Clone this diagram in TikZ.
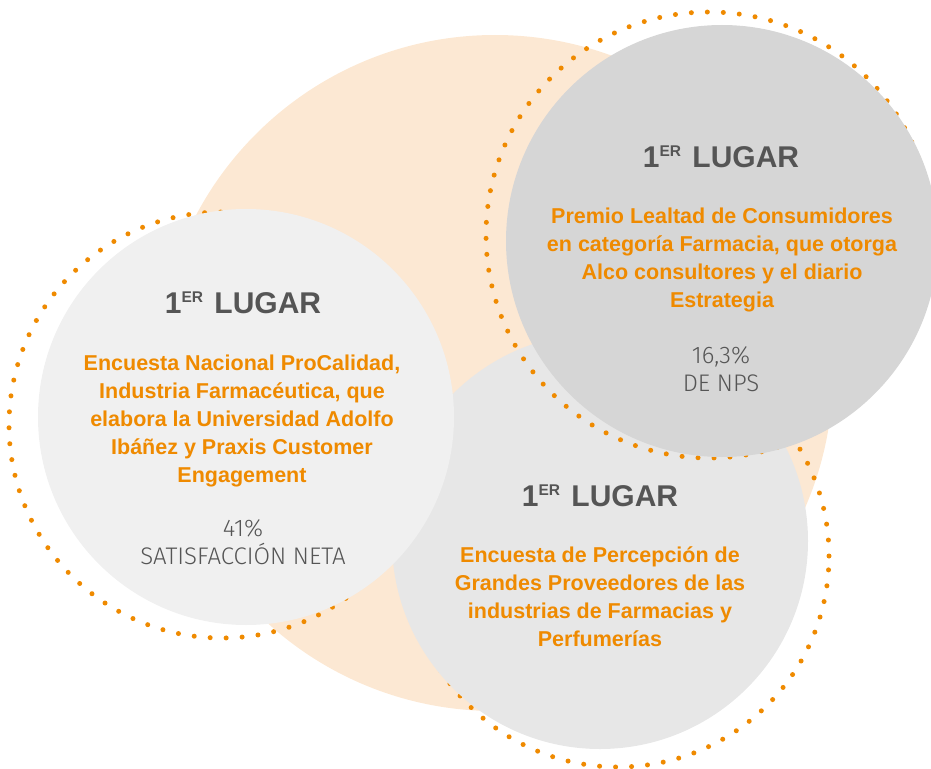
\documentclass[tikz,border=0pt]{standalone}
\usepackage{fontspec}
\setmainfont{Liberation Sans}
\newfontfamily\scorefont{Fira Sans Light}
\definecolor{peach}{HTML}{FCE8D3}
\definecolor{awardorange}{HTML}{EF8A00}
\definecolor{lightbubble}{HTML}{F0F0F0}
\definecolor{midbubble}{HTML}{E7E7E7}
\definecolor{darkbubble}{HTML}{D6D6D6}
\definecolor{placegray}{HTML}{555555}
\newcommand{\firstplace}{1\raisebox{10.4pt}{\fontsize{15.5}{15.5}\selectfont ER}\hspace{3pt} LUGAR}

\tikzset{
    bubble/.style={circle, inner sep=0pt, draw=none},
    ring/.style={draw=awardorange, line width=5pt, line cap=round, dash pattern=on 0pt off 16pt},
    place/.style={anchor=base, inner sep=0pt, text=placegray, font=\fontsize{30}{30}\selectfont\bfseries},
    award/.style={anchor=base, inner sep=0pt, align=center, text=awardorange, font=\fontsize{21.5}{28}\selectfont\bfseries},
    score/.style={anchor=base, inner sep=0pt, align=center, text=placegray, font=\fontsize{24}{28}\selectfont\scorefont}
}

\begin{document}
\begin{tikzpicture}[x=1pt, y=-1pt]
    \useasboundingbox (0,0) rectangle (931,768);
    \fill[peach] (495,373) circle[radius=338pt];

    \draw[ring] (618,556) circle[radius=211pt];
    \node[bubble, fill=midbubble, minimum size=416pt] (survey) at (600,541) {};
    \draw[ring] (222,425) circle[radius=213pt];
    \node[bubble, fill=lightbubble, minimum size=416pt] (procalidad) at (246,417) {};
    \draw[ring] (709,235) circle[radius=223pt];
    \node[bubble, fill=darkbubble, minimum size=432pt] (loyalty) at (722,241) {};

    \node[place] (placeA) at (243,313) {\firstplace};
    \node[award] (awardA) at (242,482) {Encuesta Nacional ProCalidad,\\ Industria Farmacéutica, que\\ elabora la Universidad Adolfo\\ Ibáñez y Praxis Customer\\ Engagement};
    \node[score] (scoreA) at (243,564) {41\%\\ SATISFACCIÓN NETA};

    \node[place] (placeB) at (721,167) {\firstplace};
    \node[award] (awardB) at (722,307) {Premio Lealtad de Consumidores\\ en categoría Farmacia, que otorga\\ Alco consultores y el diario\\ Estrategia};
    \node[score] (scoreB) at (721,391) {16,3\%\\ DE NPS};

    \node[place] (placeC) at (600,506) {\firstplace};
    \node[award] (awardC) at (600,646) {Encuesta de Percepción de\\ Grandes Proveedores de las\\ industrias de Farmacias y\\ Perfumerías};
\end{tikzpicture}
\end{document}
